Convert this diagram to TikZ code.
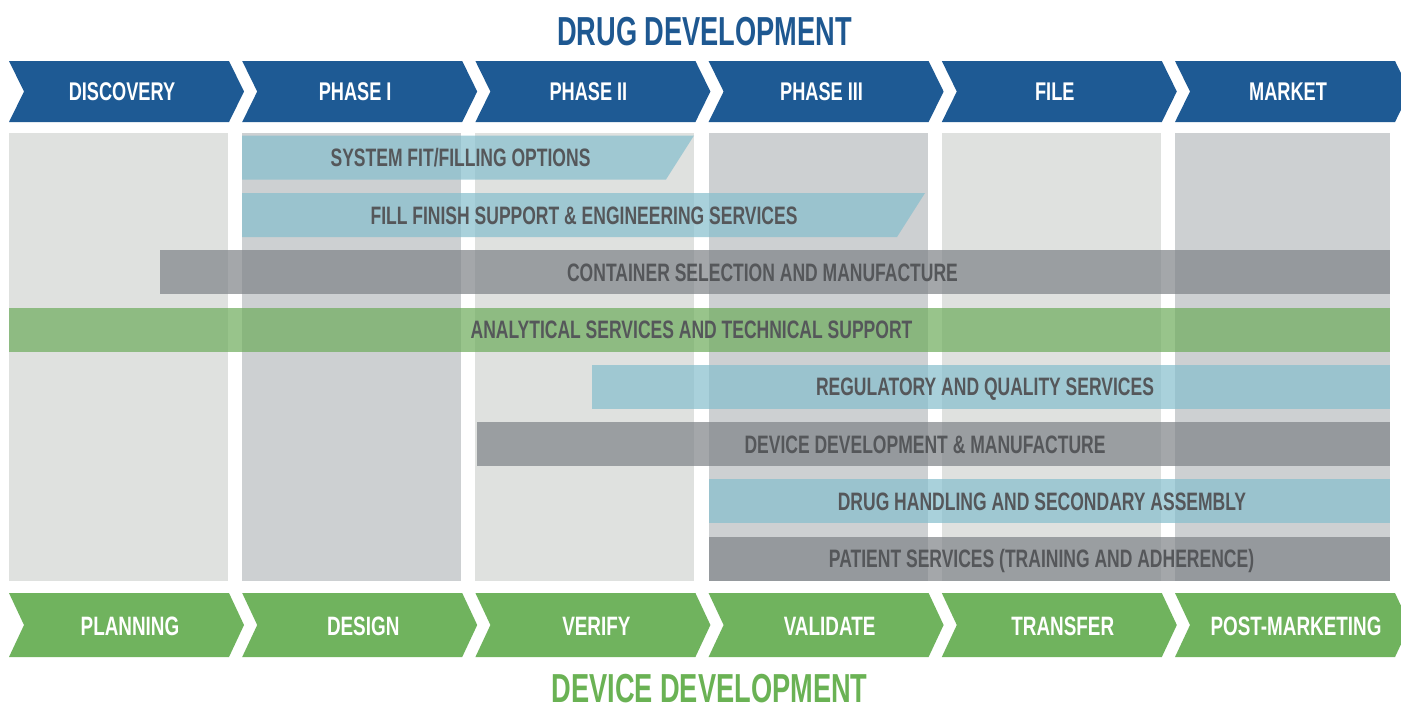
\documentclass[tikz,border=0pt]{standalone}
\usepackage{fontspec}
\newfontfamily\condf{Liberation Sans}[FakeStretch=0.71]
\newfontfamily\barf{Liberation Sans}[FakeStretch=0.695]
\newfontfamily\titlef{Liberation Sans}[FakeStretch=0.672]
\definecolor{colL}{RGB}{223,225,223}
\definecolor{colD}{RGB}{205,208,210}
\definecolor{chevblue}{RGB}{30,90,148}
\definecolor{chevgreen}{RGB}{112,179,94}
\definecolor{titleblue}{RGB}{30,88,145}
\definecolor{titlegreen}{RGB}{106,178,84}
\definecolor{barblue}{RGB}{133,190,205}
\definecolor{bargrey}{RGB}{126,130,135}
\definecolor{bargreen}{RGB}{109,171,91}
\definecolor{txtgrey}{RGB}{85,87,90}
\tikzset{
  bartext/.style={font=\barf\bfseries\fontsize{12.6}{14}\selectfont, text=txtgrey, inner sep=0pt, text height=9pt, text depth=0pt, anchor=center},
  chevtext/.style={font=\condf\bfseries\fontsize{12.8}{14}\selectfont, text=white, inner sep=0pt, text height=9.2pt, text depth=0pt, anchor=center},
  chevtextb/.style={font=\condf\bfseries\fontsize{13.3}{15}\selectfont, text=white, inner sep=0pt, text height=9.5pt, text depth=0pt, anchor=center},
  titletext/.style={font=\titlef\bfseries\fontsize{20.25}{22}\selectfont, inner sep=0pt, text height=14.5pt, text depth=0pt, anchor=center},
  barshape/.style={fill opacity=0.7}
}
\begin{document}
\begin{tikzpicture}[x=0.5pt,y=-0.5pt]
\useasboundingbox (0,0) rectangle (1401,709);
\clip (0,0) rectangle (1401,709);
\fill[white] (0,0) rectangle (1401,709);
% columns
\foreach \i/\c in {0/colL,1/colD,2/colL,3/colD,4/colL,5/colD}{
  \pgfmathsetmacro{\xx}{9+233.2*\i}
  \pgfmathsetmacro{\xe}{min(\xx+219,1390)}
  \fill[\c] (\xx,133) rectangle (\xe,581);
}
% top and bottom chevrons
\foreach \i/\lab/\labb in {0/DISCOVERY/PLANNING,1/PHASE I/DESIGN,2/PHASE II/VERIFY,3/PHASE III/VALIDATE,4/FILE/TRANSFER,5/MARKET/POST-MARKETING}{
  \pgfmathsetmacro{\xx}{9+233.2*\i}
  \fill[chevblue] (\xx,61) -- ++(220,0) -- ++(15,30.5) -- ++(-15,30.5) -- ++(-220,0) -- ++(15,-30.5) -- cycle;
  \node[chevtext] (top\i) at (\xx+113,91.5) {\lab};
  \fill[chevgreen] (\xx,593) -- ++(220,0) -- ++(15,32) -- ++(-15,32) -- ++(-220,0) -- ++(15,-32) -- cycle;
  \node[chevtextb] (bot\i) at (\xx+121,626) {\labb};
}
% bars
\fill[barblue,barshape] (242,135.5) -- (694,135.5) -- (666,179.5) -- (242,179.5) -- cycle;
\fill[barblue,barshape] (242,193) -- (925,193) -- (897,237) -- (242,237) -- cycle;
\fill[bargrey,barshape] (160,250.3) rectangle (1390,294.3);
\fill[bargreen,barshape] (9,307.7) rectangle (1390,351.7);
\fill[barblue,barshape] (592,364.5) rectangle (1390,408.5);
\fill[bargrey,barshape] (477,422) rectangle (1390,466);
\fill[barblue,barshape] (709,479.3) rectangle (1390,523.3);
\fill[bargrey,barshape] (709,536.7) rectangle (1390,580.7);
% bar labels
\node[bartext] (b1) at (460.5,157.5) {SYSTEM FIT/FILLING OPTIONS};
\node[bartext] (b2) at (584,215) {FILL FINISH SUPPORT \& ENGINEERING SERVICES};
\node[bartext] (b3) at (762.5,272.3) {CONTAINER SELECTION AND MANUFACTURE};
\node[bartext] (b4) at (691.5,329.7) {ANALYTICAL SERVICES AND TECHNICAL SUPPORT};
\node[bartext] (b5) at (985,386.5) {REGULATORY AND QUALITY SERVICES};
\node[bartext] (b6) at (925,444) {DEVICE DEVELOPMENT \& MANUFACTURE};
\node[bartext] (b7) at (1042,501.3) {DRUG HANDLING AND SECONDARY ASSEMBLY};
\node[bartext] (b8) at (1041.5,558.7) {PATIENT SERVICES (TRAINING AND ADHERENCE)};
% titles
\node[titletext,text=titleblue] (title1) at (704.5,30.5) {DRUG DEVELOPMENT};
\node[titletext,text=titlegreen] (title2) at (709.5,688) {DEVICE DEVELOPMENT};
\end{tikzpicture}
\end{document}
